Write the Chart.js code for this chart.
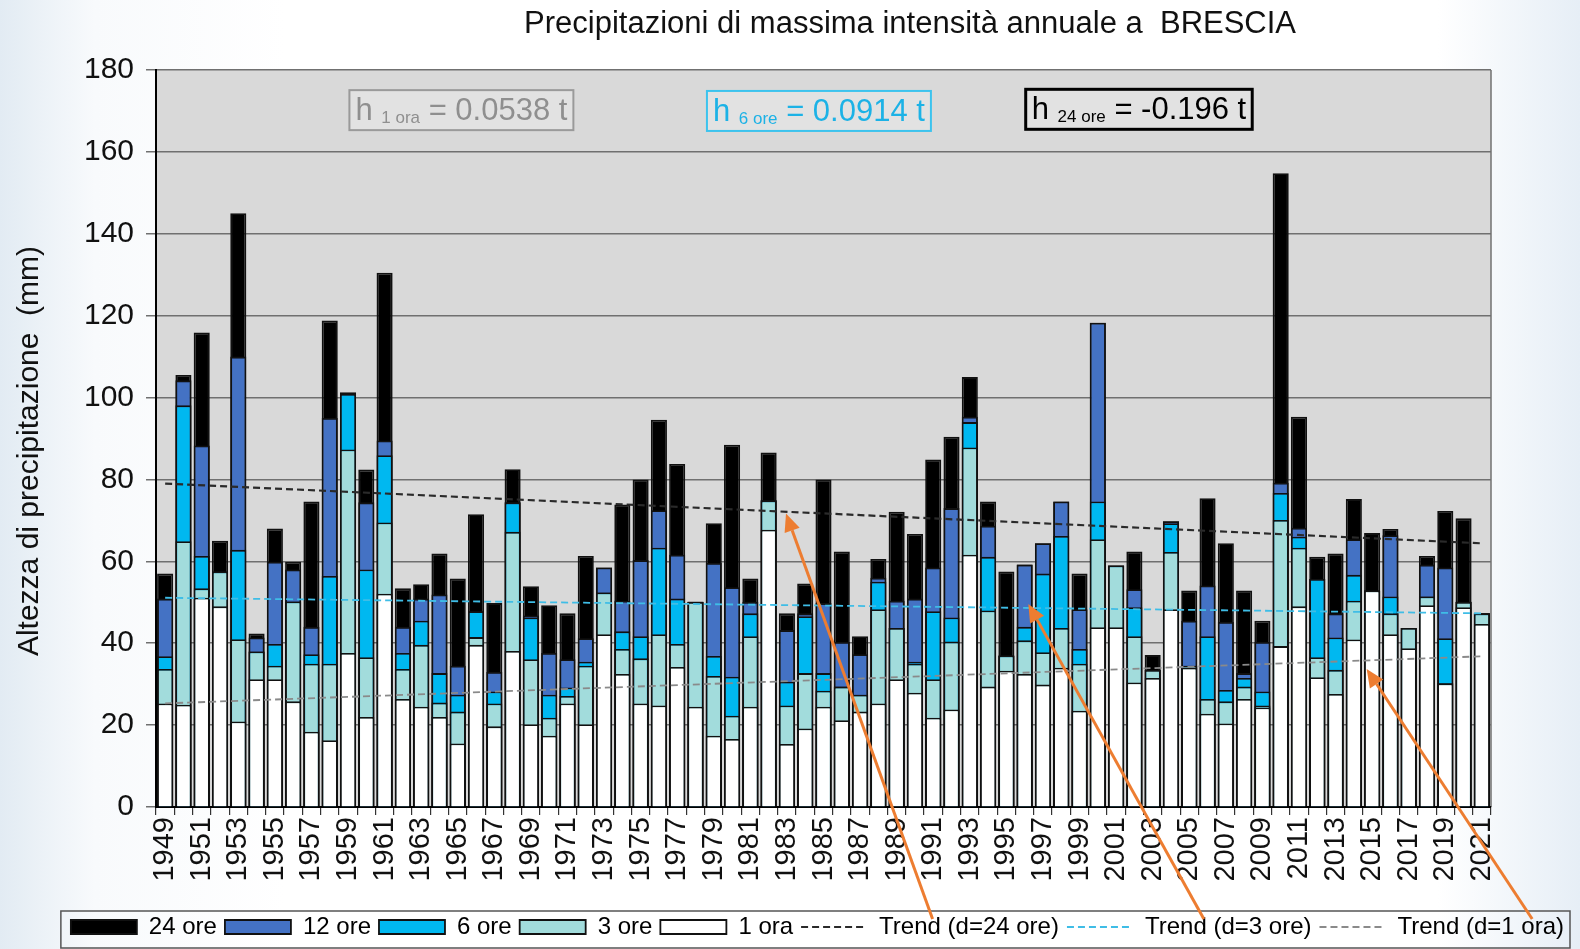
<!DOCTYPE html>
<html>
<head>
<meta charset="utf-8">
<script src="https://cdn.jsdelivr.net/npm/chart.js@4.4.1/dist/chart.umd.min.js"></script>
<style>
  html, body { margin: 0; padding: 0; }
  body {
    width: 1580px; height: 949px; overflow: hidden;
    background: linear-gradient(to right, #e2ebf3 0%, #f8fafc 6%, #ffffff 18%, #ffffff 91%, #e6eef6 100%);
  }
  #wrap { position: relative; width: 1580px; height: 949px; }
</style>
</head>
<body>
<div id="wrap"><canvas id="chartBrescia" width="1580" height="949"></canvas></div>
<script>
// ── Dati (mm) ───────────────────────────────────────────────
const anni = ['1949','1950','1951','1952','1953','1954','1955','1956','1957','1958',
  '1959','1960','1961','1962','1963','1964','1965','1966','1967','1968',
  '1969','1970','1971','1972','1973','1974','1975','1976','1977','1978',
  '1979','1980','1981','1982','1983','1984','1985','1986','1987','1988',
  '1989','1990','1991','1992','1993','1994','1995','1996','1997','1998',
  '1999','2000','2001','2002','2003','2004','2005','2006','2007','2008',
  '2009','2010','2011','2012','2013','2014','2015','2016','2017','2018',
  '2019','2020','2021'];

const h24 = [57.0,105.5,115.9,65.0,145.0,42.4,68.0,59.9,74.6,118.8,
  101.3,82.4,130.5,53.4,54.4,61.9,55.8,71.5,49.8,82.5,
  53.9,49.3,47.3,61.3,58.5,73.9,80.0,94.6,83.8,50.1,
  69.3,88.5,55.8,86.6,47.3,54.6,80.0,62.4,41.7,60.6,
  72.1,66.7,84.9,90.4,105.0,74.6,57.5,59.2,64.4,74.6,
  57.0,118.3,59.0,62.4,37.1,69.8,52.9,75.4,64.4,52.9,
  45.5,154.8,95.3,61.1,61.9,75.2,66.9,67.9,43.7,61.3,
  72.3,70.5,47.3];

const h12 = [50.9,104.2,88.3,57.5,110.0,41.4,59.9,58.0,44.0,95.0,
  101.0,74.4,89.5,44.0,50.9,51.9,34.5,47.8,33.0,74.4,
  46.8,37.6,36.1,41.2,58.5,50.4,60.3,72.5,61.6,50.1,
  59.6,53.7,50.1,74.9,43.2,47.3,49.8,40.3,37.3,56.0,
  50.4,50.9,58.5,73.0,95.3,68.7,37.0,59.2,64.4,74.6,
  48.3,118.3,59.0,53.2,33.5,69.8,45.5,54.1,45.2,32.7,
  40.3,79.2,68.2,55.7,47.3,65.4,52.9,66.4,43.7,59.2,
  58.5,50.1,47.3];

const h6 = [36.8,98.1,61.3,57.5,62.8,38.0,39.8,50.2,37.3,56.4,
  100.9,58.0,85.9,37.6,45.5,32.7,27.4,47.8,28.2,74.4,
  46.3,27.4,29.2,35.5,52.4,42.9,41.7,63.3,50.9,50.1,
  36.9,31.8,47.3,74.9,30.6,46.6,32.7,29.4,27.4,55.0,
  43.7,35.5,47.8,46.3,94.0,61.1,37.0,44.0,57.0,66.2,
  38.6,74.6,59.0,48.8,33.5,69.3,34.5,41.7,28.6,31.5,
  28.2,76.7,66.0,55.7,41.4,56.7,52.9,51.4,43.7,51.4,
  41.2,50.1,47.3];

const h3 = [33.7,64.9,53.4,57.5,41.0,38.0,34.5,50.2,35.0,35.0,
  87.3,36.6,69.5,33.7,39.6,25.5,23.3,41.5,25.3,67.2,
  36.1,21.8,27.1,34.5,52.4,38.6,36.3,42.2,39.8,50.1,
  32.0,22.3,41.7,74.9,24.8,32.7,28.4,29.4,27.4,48.3,
  43.7,35.0,31.2,40.4,87.8,48.0,37.0,40.7,37.8,43.7,
  35.0,65.4,59.0,41.7,33.5,62.3,34.5,26.4,25.8,29.4,
  24.8,70.1,63.3,36.6,33.5,50.4,52.9,47.3,43.7,51.4,
  30.2,50.1,47.3];

const h1 = [25.3,25.0,51.1,49.0,20.9,31.2,31.2,25.8,18.4,16.3,
  37.6,22.0,52.1,26.4,24.5,22.0,15.5,39.6,19.7,38.1,
  20.2,17.4,25.3,20.2,42.2,32.5,25.3,24.8,34.2,24.5,
  17.4,16.6,24.5,67.7,15.4,19.2,24.5,21.2,23.3,25.3,
  31.2,27.9,21.8,23.8,61.6,29.4,33.3,32.5,29.9,34.0,
  23.5,43.9,43.9,30.4,31.5,48.3,34.0,22.8,20.4,26.4,
  24.3,39.3,49.0,31.7,27.6,40.9,52.9,42.2,38.8,49.3,
  30.2,48.8,44.7];

// trend lineari: valore al 1949 e al 2021
const trend24 = [79.0, 64.4];
const trend3  = [51.1, 47.3];
const trend1  = [25.3, 36.8];

const yTicks = [0, 20, 40, 60, 80, 100, 120, 140, 160, 180];

// riquadri con le pendenze: [anno, valore] del centro
const riquadri = [
  { pos: [1965.2, 170.2], h: 'h', pedice: '1 ora',  resto: ' = 0.0538 t', colore: '#8f8f8f', bordo: '#9a9a9a', lw: 2 },
  { pos: [1984.75, 170.0], h: 'h', pedice: '6 ore',  resto: ' = 0.0914 t', colore: '#1cb2e6', bordo: '#3cc3ee', lw: 2 },
  { pos: [2002.25, 170.4], h: 'h', pedice: '24 ore', resto: ' = -0.196 t', colore: '#000000', bordo: '#000000', lw: 3 }
];

// frecce arancioni: punta [anno, valore], coda = frazione della voce di legenda
const frecce = [
  { punta: [1982.95, 71.7], voce: 5, frac: 0.51 },
  { punta: [1996.2, 49.6],  voce: 6, frac: 0.56 },
  { punta: [2014.7, 33.7],  voce: 7, frac: 0.87 }
];

const FONT = '"Liberation Sans", Arial, Helvetica, sans-serif';

function lineaTrend(estremi) {
  const arr = anni.map(() => null);
  arr[0] = estremi[0];
  arr[arr.length - 1] = estremi[1];
  return arr;
}

function barra(label, data, colore, ordine) {
  return {
    type: 'bar', label, data,
    backgroundColor: colore, borderColor: '#111', borderWidth: 1.8,
    grouped: false, order: ordine, pointStyle: 'rect',
    barPercentage: 0.88, categoryPercentage: 1
  };
}

function trend(label, estremi, colore, lw) {
  return {
    type: 'line', label, data: lineaTrend(estremi),
    borderColor: colore, backgroundColor: colore, borderWidth: lw,
    borderDash: [7, 4], pointRadius: 0, spanGaps: true, order: 0,
    pointStyle: 'line', fill: false
  };
}

// ── Plugins ────────────────────────────────────────────────
const sfondoPlot = {
  id: 'sfondoPlot',
  beforeDraw(chart) {
    const { ctx, chartArea: a } = chart;
    ctx.save();
    ctx.fillStyle = '#d9d9d9';
    ctx.fillRect(a.left, a.top, a.right - a.left, a.bottom - a.top);
    ctx.strokeStyle = '#707070';
    ctx.lineWidth = 1.5;
    ctx.beginPath();
    ctx.moveTo(a.right, a.top);
    ctx.lineTo(a.right, a.bottom);
    ctx.stroke();
    ctx.restore();
  }
};

const titolo = {
  id: 'titolo',
  afterDraw(chart) {
    const ctx = chart.ctx;
    ctx.save();
    ctx.font = '31px ' + FONT;
    ctx.fillStyle = '#111';
    ctx.textAlign = 'center';
    ctx.textBaseline = 'middle';
    ctx.fillText('Precipitazioni di massima intensità annuale a  BRESCIA', chart.width * 0.576, 24);
    ctx.restore();
  }
};

const annotazioni = {
  id: 'annotazioni',
  afterDatasetsDraw(chart) {
    const { ctx, scales: { x, y } } = chart;
    ctx.save();
    riquadri.forEach(r => {
      const cx = x.getPixelForValue(r.pos[0] - 1949);
      const cy = y.getPixelForValue(r.pos[1]);
      const fBig = '31px ' + FONT, fSmall = '17px ' + FONT;
      ctx.font = fBig; const w1 = ctx.measureText(r.h + ' ').width;
      ctx.font = fSmall; const w2 = ctx.measureText(r.pedice).width;
      ctx.font = fBig; const w3 = ctx.measureText(r.resto).width;
      const tw = w1 + w2 + w3, bw = tw + 12, bh = 40;
      ctx.fillStyle = 'rgba(226,226,226,0.9)';
      ctx.fillRect(cx - bw / 2, cy - bh / 2, bw, bh);
      ctx.strokeStyle = r.bordo; ctx.lineWidth = r.lw;
      ctx.strokeRect(cx - bw / 2, cy - bh / 2, bw, bh);
      ctx.fillStyle = r.colore;
      ctx.textBaseline = 'alphabetic';
      ctx.textAlign = 'left';
      let tx = cx - tw / 2;
      const base = cy + 10;
      ctx.font = fBig; ctx.fillText(r.h + ' ', tx, base); tx += w1;
      ctx.font = fSmall; ctx.fillText(r.pedice, tx, base + 3); tx += w2;
      ctx.font = fBig; ctx.fillText(r.resto, tx, base);
    });
    ctx.restore();
  }
};

const cornice = {
  id: 'cornice',
  afterDraw(chart) {
    const { ctx, legend, scales: { x, y } } = chart;
    const hb = legend.legendHitBoxes;
    if (!hb || !hb.length) return;
    const l = Math.min(...hb.map(b => b.left)) - 10;
    const r = Math.max(...hb.map(b => b.left + b.width)) + 6;
    const t = hb[0].top - 4;
    const b = hb[0].top + hb[0].height + 9;
    ctx.save();
    ctx.strokeStyle = '#555';
    ctx.lineWidth = 1.5;
    ctx.strokeRect(l, t, r - l, b - t);
    // frecce
    ctx.strokeStyle = '#ed7d31';
    ctx.fillStyle = '#ed7d31';
    ctx.lineWidth = 3;
    frecce.forEach(f => {
      const box = hb[f.voce];
      const x0 = box.left + box.width * f.frac;
      const y0 = box.top + 4;
      const x1 = x.getPixelForValue(f.punta[0] - 1949);
      const y1 = y.getPixelForValue(f.punta[1]);
      const ang = Math.atan2(y1 - y0, x1 - x0);
      const L = 18, W = 8;
      const bx = x1 - L * Math.cos(ang), by = y1 - L * Math.sin(ang);
      ctx.beginPath();
      ctx.moveTo(x0, y0);
      ctx.lineTo(bx, by);
      ctx.stroke();
      ctx.beginPath();
      ctx.moveTo(x1, y1);
      ctx.lineTo(bx + W * Math.sin(ang), by - W * Math.cos(ang));
      ctx.lineTo(bx - W * Math.sin(ang), by + W * Math.cos(ang));
      ctx.closePath();
      ctx.fill();
    });
    ctx.restore();
  }
};

// ── Grafico ────────────────────────────────────────────────
const ctxChart = document.getElementById('chartBrescia');
new Chart(ctxChart, {
  data: {
    labels: anni,
    datasets: [
      barra('24 ore', h24, '#000000', 5),
      barra('12 ore', h12, '#4472c4', 4),
      barra('6 ore',  h6,  '#00b8f0', 3),
      barra('3 ore',  h3,  '#a2dcdc', 2),
      barra('1 ora',  h1,  '#ffffff', 1),
      trend('Trend (d=24 ore)', trend24, '#2a2a2a', 2.2),
      trend('Trend (d=3 ore)',  trend3,  '#3fbde6', 1.8),
      trend('Trend (d=1 ora)',  trend1,  '#8a8a8a', 1.8)
    ]
  },
  options: {
    responsive: false,
    animation: false,
    devicePixelRatio: 1,
    layout: { padding: { top: 70, left: 0, right: 8, bottom: 0 } },
    plugins: {
      tooltip: { enabled: false },
      title: { display: false },
      legend: {
        position: 'bottom',
        align: 'end',
        labels: {
          usePointStyle: true,
          pointStyleWidth: 66,
          boxHeight: 14,
          padding: 8,
          color: '#000',
          font: { size: 24, family: FONT },
          sort: (a, b) => a.datasetIndex - b.datasetIndex,
          generateLabels(chart) {
            const items = Chart.defaults.plugins.legend.labels.generateLabels(chart);
            items.forEach(it => {
              const ds = chart.data.datasets[it.datasetIndex];
              if (ds.type === 'line') {
                it.lineDash = ds.borderDash;
                it.strokeStyle = ds.borderColor;
                it.lineWidth = ds.borderWidth;
              }
            });
            return items;
          }
        }
      }
    },
    scales: {
      x: {
        type: 'category',
        offset: true,
        grid: { display: true, drawOnChartArea: false, offset: true, tickLength: 8, color: '#333', lineWidth: 1.2 },
        border: { display: true, color: '#000', width: 2 },
        ticks: {
          autoSkip: false, minRotation: 90, maxRotation: 90, padding: 2,
          color: '#111', font: { size: 29, family: FONT },
          callback: (v, i) => (i % 2 === 0 ? anni[i] : '')
        },
        afterFit: s => { s.height = 100; }
      },
      y: {
        min: 0, max: 180,
        afterBuildTicks: s => { s.ticks = yTicks.map(v => ({ value: v })); },
        grid: { color: '#707070', lineWidth: 1.5, tickLength: 10 },
        border: { display: true, color: '#000', width: 2 },
        ticks: { color: '#111', padding: 12, font: { size: 30, family: FONT } },
        title: {
          display: true, text: 'Altezza di precipitazione  (mm)   ',
          color: '#111', font: { size: 30, family: FONT }, padding: { top: 12, bottom: 0 }
        },
        afterFit: s => { s.width = 156; }
      },
      yDx: {
        position: 'right', display: true,
        grid: { display: false }, border: { display: false },
        ticks: { display: false },
        afterFit: s => { s.width = 81; }
      }
    }
  },
  plugins: [sfondoPlot, annotazioni, titolo, cornice]
});
</script>
</body>
</html>
